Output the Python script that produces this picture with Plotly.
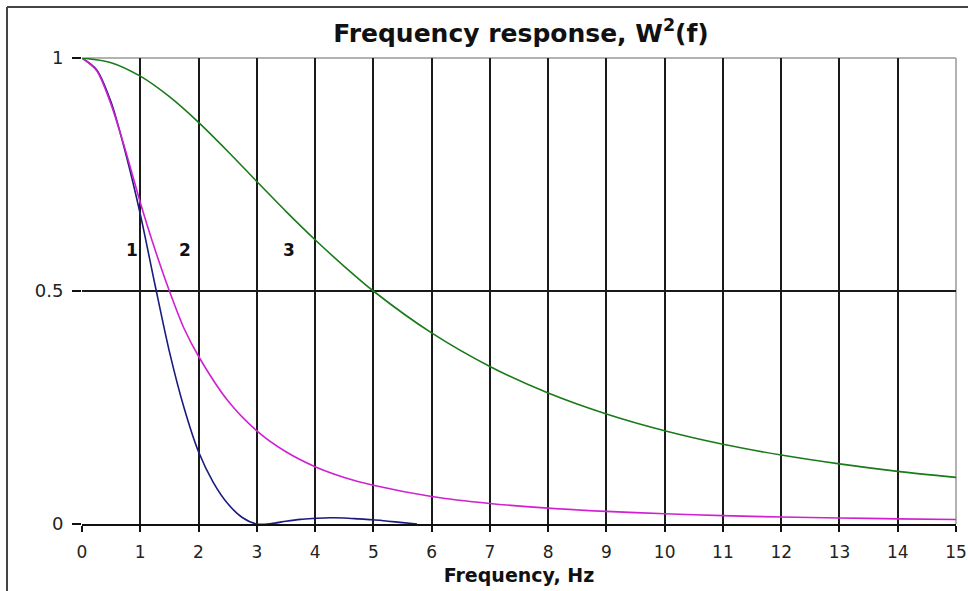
import plotly.graph_objects as go

# ---- data ----
f1 = [0, 0.25, 0.5, 0.75, 1.0, 1.25, 1.5, 1.75, 2.0, 2.25, 2.5, 2.75, 3.0,
      3.25, 3.5, 3.75, 4.0, 4.25, 4.5, 4.75, 5.0, 5.25, 5.5, 5.75]
w1 = [1.0, 0.975, 0.905, 0.795, 0.665, 0.515, 0.37, 0.25, 0.155, 0.09, 0.044, 0.014, 0.0,
      0.001, 0.006, 0.010, 0.012, 0.0135, 0.013, 0.011, 0.009, 0.006, 0.003, 0.0]

f2 = [0, 0.25, 0.5, 0.75, 1.0, 1.25, 1.5, 1.75, 2.0, 2.5, 3.0, 3.5, 4.0, 4.5, 5.0,
      6, 7, 8, 9, 10, 11, 12, 13, 14, 15]
w2 = [1.0, 0.973, 0.90, 0.80, 0.69, 0.59, 0.50, 0.42, 0.36, 0.265, 0.20, 0.155, 0.123, 0.10, 0.083,
      0.059, 0.044, 0.034, 0.027, 0.022, 0.018, 0.015, 0.013, 0.011, 0.0098]

f3 = [0, 0.5, 1, 1.5, 2, 2.5, 3, 3.5, 4, 4.5, 5, 6, 7, 8, 9, 10, 11, 12, 13, 14, 15]
w3 = [1.0, 0.99, 0.961, 0.917, 0.862, 0.80, 0.735, 0.671, 0.61, 0.553, 0.5, 0.41, 0.338,
      0.281, 0.236, 0.2, 0.171, 0.148, 0.129, 0.113, 0.1]

curve_labels = ["1", "2", "3"]
label_x = [0.85, 1.77, 3.56]
label_y = [0.588, 0.588, 0.588]

x_ticks = list(range(0, 16))
y_ticks = [0, 0.5, 1]
y_ticktext = ["0", "0.5", "1"]

FONT = "DejaVu Sans, Verdana, sans-serif"

fig = go.Figure()
fig.add_trace(go.Scatter(x=f1, y=w1, mode="lines", line=dict(color="#1a1a80", width=1.6, shape="spline", smoothing=0.8), showlegend=False))
fig.add_trace(go.Scatter(x=f2, y=w2, mode="lines", line=dict(color="#d020d0", width=1.6, shape="spline", smoothing=0.8), showlegend=False))
fig.add_trace(go.Scatter(x=f3, y=w3, mode="lines", line=dict(color="#1a7a1a", width=1.6, shape="spline", smoothing=0.8), showlegend=False))

for t, x, y in zip(curve_labels, label_x, label_y):
    fig.add_annotation(x=x, y=y, text="<b>%s</b>" % t, showarrow=False,
                       font=dict(family=FONT, size=17, color="#111"))

W, H = 968, 591
L, R, T, B = 82, 12, 58, 67
pw, ph = W - L - R, H - T - B

fig.update_layout(
    width=W, height=H,
    margin=dict(l=L, r=R, t=T, b=B, pad=0),
    paper_bgcolor="white", plot_bgcolor="white",
    font=dict(family=FONT, size=17, color="#111"),
    title=dict(text="<b>Frequency response, W<sup>2</sup>(f)</b>", x=521 / W,
               xanchor="center", y=1 - 33 / H, yanchor="middle",
               font=dict(family=FONT, size=25, color="#111")),
    xaxis=dict(range=[0, 15], tickvals=x_ticks, ticktext=[str(v) for v in x_ticks],
               automargin=False,
               showgrid=True, gridcolor="#1a1a1a", gridwidth=1.5,
               zeroline=False, showline=True, linecolor="#111", linewidth=1.5,
               ticks="outside", ticklen=6, tickcolor="#111", tickwidth=1.5,
               ticklabelstandoff=6,
               tickfont=dict(family=FONT, size=17, color="#222"),
               title=dict(text="<b>Frequency, Hz</b>", standoff=8,
                          font=dict(family=FONT, size=19, color="#111"))),
    yaxis=dict(range=[0, 1], tickvals=y_ticks, ticktext=y_ticktext,
               automargin=False,
               showgrid=True, gridcolor="#1a1a1a", gridwidth=1.5,
               zeroline=False, showline=False,
               ticks="outside", ticklen=9, tickcolor="#111", tickwidth=1.5,
               ticklabelstandoff=5,
               tickfont=dict(family=FONT, size=18, color="#222")),
)

# outer chart frame (top and left edges visible in the reference)
fx = (7 - L) / pw
fy = (H - B - 7) / ph
fig.add_shape(type="line", xref="paper", yref="paper", x0=fx, x1=(W - L) / pw + 0.01, y0=fy, y1=fy,
              line=dict(color="#444", width=2), layer="above")
fig.add_shape(type="line", xref="paper", yref="paper", x0=fx, x1=fx, y0=fy, y1=-B / ph - 0.01,
              line=dict(color="#444", width=2), layer="above")
# grey plot-area border on top and right
fig.add_shape(type="line", xref="paper", yref="paper", x0=0, x1=1, y0=1, y1=1,
              line=dict(color="#999", width=1.5), layer="between")
fig.add_shape(type="line", xref="paper", yref="paper", x0=1, x1=1, y0=0, y1=1,
              line=dict(color="#999", width=1.5), layer="between")

fig.write_html("out.html", config={"displayModeBar": False},
               post_script="document.body.style.margin='0';document.body.style.overflow='hidden';")
